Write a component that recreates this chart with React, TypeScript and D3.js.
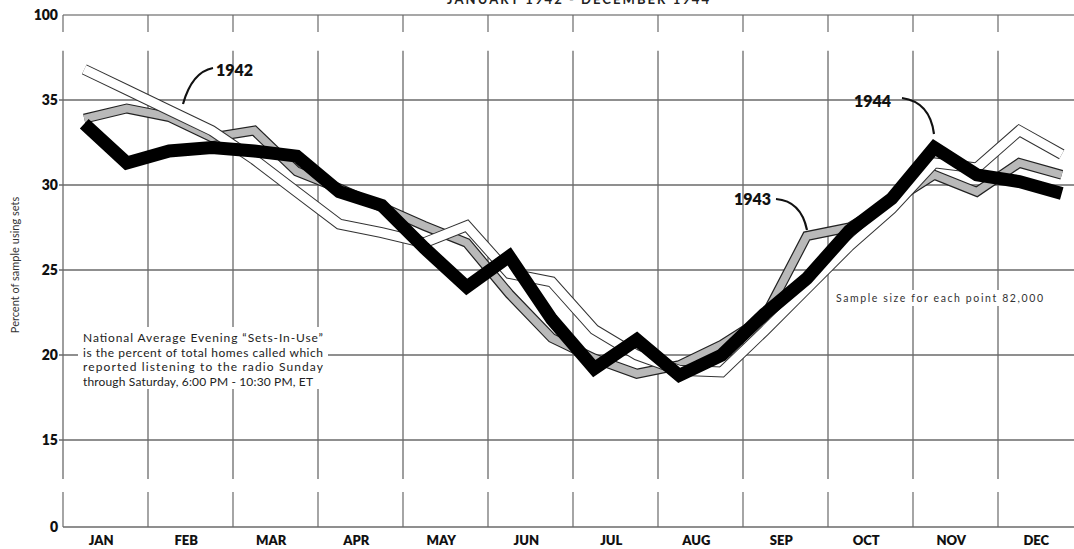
import React from "react";
import * as d3 from "d3";

const months = ["JAN", "FEB", "MAR", "APR", "MAY", "JUN", "JUL", "AUG", "SEP", "OCT", "NOV", "DEC"];
// semi-monthly readings (two per month)
const sets1942 = [36.8, 35.6, 34.4, 33.2, 31.5, 29.6, 27.7, 27.2, 26.6, 27.6, 24.8, 24.3, 21.5, 20.0, 19.1, 19.0, 21.4, 23.9, 26.4, 28.6, 31.3, 31.0, 33.2, 31.8];
const sets1943 = [33.9, 34.5, 34.0, 32.8, 33.2, 30.8, 29.8, 28.7, 27.6, 26.6, 23.6, 21.0, 19.8, 18.9, 19.4, 20.6, 22.2, 27.0, 27.5, 29.0, 30.6, 29.6, 31.3, 30.6];
const sets1944 = [33.6, 31.3, 32.0, 32.2, 32.0, 31.7, 29.6, 28.8, 26.3, 24.0, 25.8, 22.1, 19.2, 20.9, 18.8, 20.0, 22.4, 24.5, 27.3, 29.2, 32.2, 30.6, 30.2, 29.5];
const yTicks = [0, 15, 20, 25, 30, 35, 100];
const gridValues = [15, 20, 25, 30, 35];
const noteLines = [
  "National Average Evening \u201CSets-In-Use\u201D",
  "is the percent of total homes called which",
  "reported listening to the radio Sunday",
  "through Saturday, 6:00 PM - 10:30 PM, ET",
];
const titleText = "JANUARY 1942 - DECEMBER 1944";
const sampleText = "Sample size for each point 82,000";
const yLabel = "Percent of sample using sets";

const W = 1074;
const H = 549;
const FONT = "Lato, 'Noto Sans', 'DejaVu Sans', sans-serif";

export default function App() {
  const x = d3.scaleLinear().domain([0, 12]).range([63, 1083]);
  // broken axis: 0..12.5 compressed, 12.5..37.9 main section, 37.9..100 compressed
  const y = d3.scaleLinear().domain([0, 12.5, 37.9, 100]).range([527, 482.5, 50.7, 15]);

  const pos = (i: number) => Math.floor(i / 2) + (i % 2 === 0 ? 0.25 : 0.75);
  const line = d3
    .line<number>()
    .x((_, i) => x(pos(i)))
    .y((d) => y(d));

  const boundaries = d3.range(0, 13);
  const gridStroke = "#6a6a6a";

  return (
    <svg
      width={W}
      height={H}
      viewBox={`0 0 ${W} ${H}`}
      style={{ position: "absolute", left: 0, top: 0, background: "#fff" }}
    >
      <rect x={0} y={0} width={W} height={H} fill="#fff" />
      {/* title (cut off at top) */}
      <text
        x={578}
        y={4}
        textAnchor="middle"
        fontFamily={FONT}
        fontWeight={700}
        fontSize={13}
        textLength={262}
        lengthAdjust="spacing"
        fill="#222"
      >
        {titleText}
      </text>

      {/* top (100) section */}
      <line x1={x(0)} x2={W} y1={y(100)} y2={y(100)} stroke="#8a8a8a" strokeWidth={1.3} />
      {boundaries.map((b) => (
        <line key={"tt" + b} x1={x(b)} x2={x(b)} y1={y(100)} y2={y(100) + 17} stroke={gridStroke} strokeWidth={1.2} />
      ))}

      {/* main grid */}
      {gridValues.map((v) => (
        <line key={"h" + v} x1={x(0) - 4} x2={W} y1={y(v)} y2={y(v)} stroke={gridStroke} strokeWidth={1.3} />
      ))}
      {boundaries.map((b) => (
        <line key={"v" + b} x1={x(b)} x2={x(b)} y1={y(37.9)} y2={y(12.7)} stroke={gridStroke} strokeWidth={1.3} />
      ))}

      {/* bottom (0) section */}
      <line x1={x(0)} x2={W} y1={y(0)} y2={y(0)} stroke={gridStroke} strokeWidth={1.3} />
      {boundaries.map((b) => (
        <line key={"bt" + b} x1={x(b)} x2={x(b)} y1={y(0) - 35} y2={y(0)} stroke={gridStroke} strokeWidth={1.2} />
      ))}

      {/* y tick labels */}
      {yTicks.map((t) => (
        <text
          key={"yt" + t}
          x={58}
          y={y(t) + 5}
          textAnchor="end"
          fontFamily={FONT}
          fontWeight={800}
          fontSize={14}
          fill="#111"
        >
          {t}
        </text>
      ))}
      <text
        transform={`translate(19, 265) rotate(-90)`}
        textAnchor="middle"
        fontFamily={FONT}
        fontSize={11}
        fill="#333"
      >
        {yLabel}
      </text>

      {/* month labels */}
      {months.map((m, i) => (
        <text
          key={m}
          x={x(i + 0.45)}
          y={545}
          textAnchor="middle"
          fontFamily={FONT}
          fontWeight={800}
          fontSize={13}
          fill="#111"
        >
          {m}
        </text>
      ))}

      {/* note box */}
      <rect x={78} y={327} width={250} height={62} fill="#fff" />
      {noteLines.map((t, i) => (
        <text
          key={"n" + i}
          x={83}
          y={342 + i * 14.5}
          fontFamily={FONT}
          fontSize={12}
          fill="#222"
          textLength={i < 3 ? 240 : 230}
          lengthAdjust="spacing"
        >
          {t}
        </text>
      ))}
      <rect x={833} y={290} width={213} height={16} fill="#fff" />
      <text x={836} y={302} fontFamily={FONT} fontSize={10.5} fill="#333" textLength={207} lengthAdjust="spacing">
        {sampleText}
      </text>

      {/* 1943 gray band */}
      <path d={line(sets1943) || ""} fill="none" stroke="#222" strokeWidth={10} strokeLinejoin="miter" />
      <path d={line(sets1943) || ""} fill="none" stroke="#b9b9b9" strokeWidth={7.6} strokeLinejoin="miter" />
      {/* 1942 white band */}
      <path d={line(sets1942) || ""} fill="none" stroke="#333" strokeWidth={11} strokeLinejoin="miter" />
      <path d={line(sets1942) || ""} fill="none" stroke="#fff" strokeWidth={9} strokeLinejoin="miter" />
      {/* 1944 black */}
      <path d={line(sets1944) || ""} fill="none" stroke="#000" strokeWidth={13} strokeLinejoin="miter" />

      {/* labels with arrows */}
      <text x={216} y={76} fontFamily={FONT} fontWeight={800} fontSize={16} fill="#111">1942</text>
      <path d="M213,68 Q192,72 183,104" fill="none" stroke="#111" strokeWidth={2.2} />
      <text x={734} y={205} fontFamily={FONT} fontWeight={800} fontSize={16} fill="#111">1943</text>
      <path d="M776,199 Q801,201 807,230" fill="none" stroke="#111" strokeWidth={2.2} />
      <text x={854} y={107} fontFamily={FONT} fontWeight={800} fontSize={16} fill="#111">1944</text>
      <path d="M902,98 Q930,102 934,134" fill="none" stroke="#111" strokeWidth={2.2} />
    </svg>
  );
}
